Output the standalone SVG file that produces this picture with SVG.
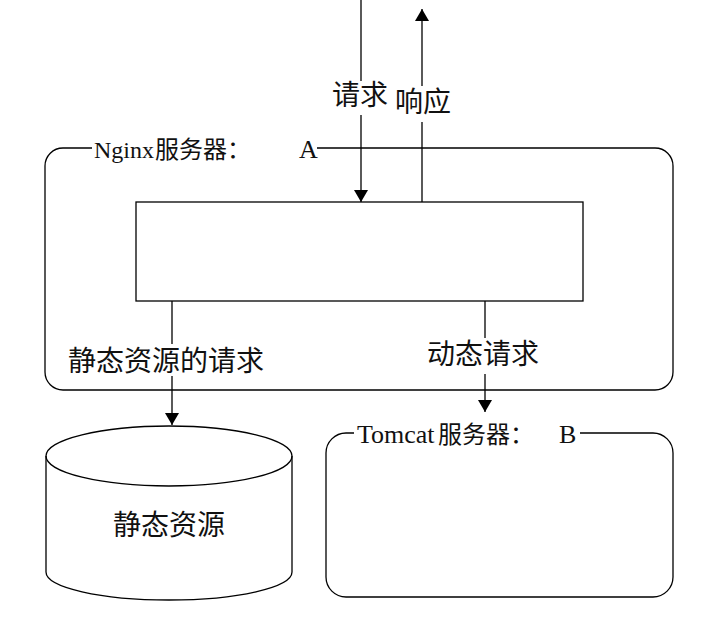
<svg xmlns="http://www.w3.org/2000/svg" width="702" height="628" viewBox="0 0 702 628">
<style>
.box{fill:none;stroke:#000;stroke-width:1.3}
.ln{stroke:#000;stroke-width:1.3;fill:none}
.bg{fill:#fff;stroke:none}
.lbl{font-family:"Noto Sans CJK SC","Noto Sans",sans-serif;font-size:28px;fill:#111}
.ttl{font-family:"Liberation Serif","Noto Sans CJK SC",serif;font-size:26px;fill:#111}
.cjk{font-family:"Noto Sans CJK SC",sans-serif;font-size:24px}
</style>
<defs>
<marker id="ah" viewBox="0 0 12 14" refX="12" refY="7" markerWidth="12" markerHeight="14" markerUnits="userSpaceOnUse" orient="auto">
<path d="M0,0 L12,7 L0,14 Z" fill="#000"/>
</marker>
</defs>
<rect width="702" height="628" fill="#fff"/>
<g id="nginx">
<rect class="box" x="45" y="148" width="628" height="242" rx="18"/>
<rect class="bg" x="92" y="134" width="225" height="28"/>
<text class="ttl" x="94" y="158"><tspan font-size="24">Nginx</tspan><tspan class="cjk" x="155">服务器：</tspan><tspan x="299">A</tspan></text>
</g>
<g id="inner">
<rect class="box" x="136" y="202" width="447" height="99"/>
</g>
<g id="static">
<path class="box" d="M46,456 A123,30 0 0 1 292,456 L292,572 A123,28 0 0 1 46,572 Z"/>
<path class="box" d="M46,456 A123,30 0 0 0 292,456"/>
<text class="lbl" x="169" y="535" text-anchor="middle">静态资源</text>
</g>
<g id="tomcat">
<rect class="box" x="326" y="433" width="347" height="164" rx="20"/>
<rect class="bg" x="354" y="419" width="226" height="28"/>
<text class="ttl" x="357" y="443"><tspan>Tomcat</tspan><tspan class="cjk" x="438">服务器：</tspan><tspan x="559">B</tspan></text>
</g>
<g id="connectors">
<line class="ln" x1="361" y1="0" x2="361" y2="202" marker-end="url(#ah)"/>
<line class="ln" x1="422" y1="202" x2="422" y2="9" marker-end="url(#ah)"/>
<line class="ln" x1="172" y1="301" x2="172" y2="425" marker-end="url(#ah)"/>
<line class="ln" x1="485" y1="301" x2="485" y2="412" marker-end="url(#ah)"/>
</g>
<g id="labels">
<rect class="bg" x="332" y="81" width="56" height="34"/>
<text class="lbl" x="332" y="105">请求</text>
<rect class="bg" x="395" y="86" width="56" height="36"/>
<text class="lbl" x="395" y="112">响应</text>
<rect class="bg" x="66" y="344" width="206" height="32"/>
<text class="lbl" x="68" y="371">静态资源的请求</text>
<rect class="bg" x="425" y="338" width="120" height="36"/>
<text class="lbl" x="427" y="364">动态请求</text>
</g>
</svg>
